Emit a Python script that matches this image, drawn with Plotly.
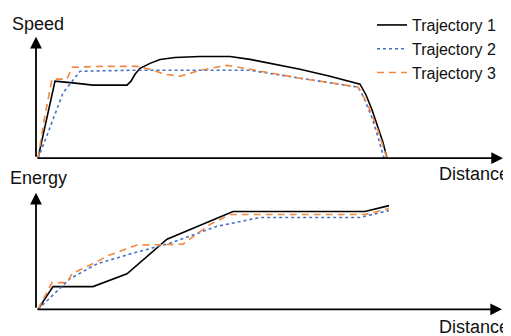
import plotly.graph_objects as go

# Top panel: Speed vs Distance
t1_dist = [2, 19, 39, 57, 91, 95, 99, 104, 114, 124, 139, 164, 194, 214, 264, 294, 324, 330, 336, 342, 347, 351]
t1_speed = [0, 78, 76, 74, 74, 78, 85, 91, 96, 100, 102, 103, 103, 100, 90, 83, 75, 64, 49, 32, 16, 0]

t2_dist = [2, 11, 27, 44, 94, 214, 264, 322, 328, 336, 343, 348]
t2_speed = [0, 23, 66, 88, 89, 89, 81, 72, 61, 41, 18, 0]

t3_dist = [2, 8, 16, 31, 36, 64, 101, 114, 129, 144, 164, 191, 214, 264, 322, 331, 341, 351]
t3_speed = [0, 38, 80, 80, 92, 93, 93, 90, 85, 83, 89, 94, 90, 81, 72, 56, 31, 0]

# Bottom panel: Energy vs Distance
e1_dist = [2, 17, 57, 91, 131, 197, 329, 353]
e1_energy = [0, 23, 23, 36, 71, 99, 99, 105]

e2_dist = [2, 19, 34, 61, 94, 134, 181, 224, 324, 353]
e2_energy = [0, 17, 31, 46, 56, 67, 84, 93, 93, 100]

e3_dist = [2, 16, 31, 36, 44, 61, 71, 101, 147, 174, 194, 329, 353]
e3_energy = [0, 27, 27, 36, 40, 48, 54, 65, 66, 86, 96, 96, 102]

names = ["Trajectory 1", "Trajectory 2", "Trajectory 3"]
colors = ["#000000", "#4472C4", "#F0883E"]
dashes = ["solid", "dot", "7px,5px"]

# page body has an 8px margin, so the figure is 8px smaller and offset
OFF = 8
W, H = 511 - OFF, 336 - OFF
FONT = "Liberation Sans, Arial, sans-serif"


def px(xabs):
    return (xabs - OFF) / W


def py(yabs):
    return 1 - (yabs - OFF) / H


fig = go.Figure()
top = [(t1_dist, t1_speed), (t2_dist, t2_speed), (t3_dist, t3_speed)]
bot = [(e1_dist, e1_energy), (e2_dist, e2_energy), (e3_dist, e3_energy)]
for i in range(3):
    fig.add_trace(go.Scatter(x=top[i][0], y=top[i][1], mode="lines", name=names[i],
                             line=dict(color=colors[i], dash=dashes[i], width=1.6),
                             yaxis="y", showlegend=True))
for i in range(3):
    fig.add_trace(go.Scatter(x=bot[i][0], y=bot[i][1], mode="lines", name=names[i],
                             line=dict(color=colors[i], dash=dashes[i], width=1.6),
                             yaxis="y2", showlegend=False))

ax_common = dict(showgrid=False, zeroline=False, showline=False, showticklabels=False, ticks="")
fig.update_layout(
    width=W, height=H,
    margin=dict(l=0, r=0, t=0, b=0),
    paper_bgcolor="white", plot_bgcolor="white",
    xaxis=dict(range=[-28, 475], domain=[0, 1], **ax_common),
    yaxis=dict(range=[-180, 148], domain=[0, 1], **ax_common),
    yaxis2=dict(range=[-27, 301], overlaying="y", **ax_common),
    legend=dict(x=px(372), y=py(4), xanchor="left", yanchor="top",
                bgcolor="rgba(0,0,0,0)", font=dict(family=FONT, size=16, color="#111"),
                tracegroupgap=0, itemwidth=30),
    font=dict(family=FONT),
)

arrow = dict(showarrow=True, text="", arrowhead=2, arrowsize=1.3, arrowwidth=1.8,
             arrowcolor="black", axref="x", xref="x", standoff=0, startstandoff=0)
# top axes
fig.add_annotation(x=0, y=123, ax=0, ay=0, yref="y", ayref="y", **arrow)
fig.add_annotation(x=467, y=0, ax=0, ay=0, yref="y", ayref="y", **arrow)
# bottom axes
fig.add_annotation(x=0, y=118, ax=0, ay=0, yref="y2", ayref="y2", **arrow)
fig.add_annotation(x=466, y=0, ax=0, ay=0, yref="y2", ayref="y2", **arrow)

lab = dict(showarrow=False, xref="paper", yref="paper", xanchor="left", yanchor="middle",
           font=dict(family=FONT, size=18, color="#111"))
fig.add_annotation(text="Speed", x=px(10), y=py(20), **lab)
fig.add_annotation(text="Energy", x=px(8), y=py(176), **lab)
fig.add_annotation(text="Distance", x=px(437), y=py(172), **lab)
fig.add_annotation(text="Distance", x=px(437), y=py(327), **lab)

fig.write_html("out.html")
